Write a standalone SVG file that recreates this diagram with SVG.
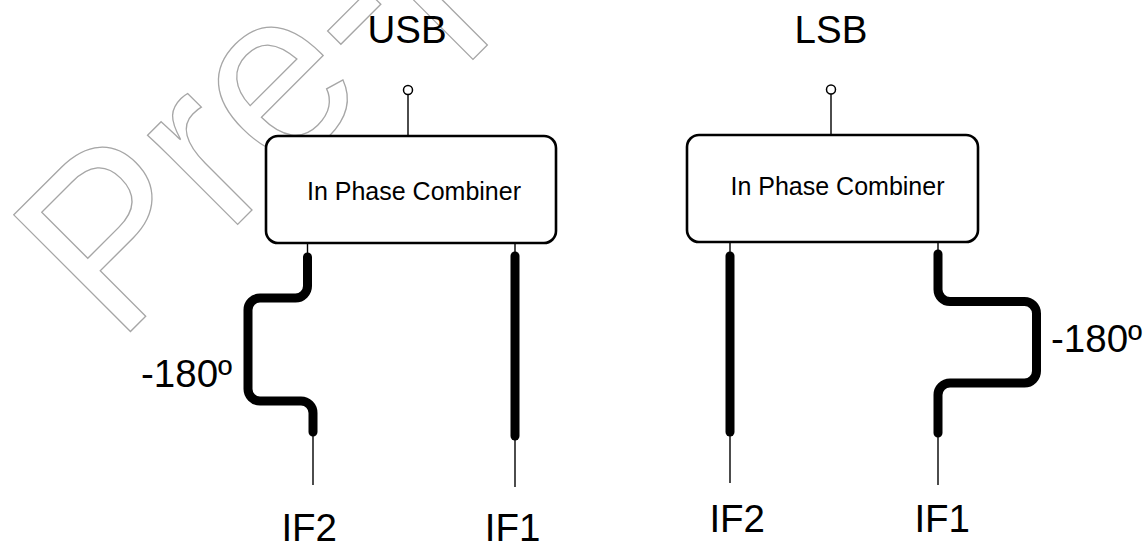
<svg xmlns="http://www.w3.org/2000/svg" width="1144" height="544" viewBox="0 0 1144 544">
<style>
.wm{font-family:"Liberation Sans",Arial,sans-serif;font-size:240px;fill:none;stroke:#a6a6a6;stroke-width:1.3px}
.box{fill:#fff;stroke:#000;stroke-width:2.6}
.lbl{font-family:"Liberation Sans",Arial,sans-serif;font-size:25px;fill:#000}
.big{font-family:"Liberation Sans",Arial,sans-serif;font-size:38.5px;fill:#000}
.thin{stroke:#000;stroke-width:1.4;fill:none}
.thick{stroke:#000;stroke-width:9;fill:none;stroke-linecap:round;stroke-linejoin:round}
.pin{fill:#fff;stroke:#000;stroke-width:1.5}
</style>
<rect width="1144" height="544" fill="#fff"/>
<g id="watermark">
<text class="wm" transform="translate(117,345) rotate(-45) scale(0.966,1)">Pre-p</text>
</g>
<g id="connectors">
<line class="thin" x1="408" y1="94.5" x2="408" y2="136"/>
<line class="thin" x1="307.5" y1="243" x2="307.5" y2="257"/>
<path class="thick" d="M307.5,257 V286 A12,12 0 0 1 295.5,298 H260 A12,12 0 0 0 248,310 V389 A12,12 0 0 0 260,401 H301 A12,12 0 0 1 313,413 V432"/>
<line class="thin" x1="313" y1="432" x2="313" y2="485"/>
<line class="thin" x1="515" y1="243" x2="515" y2="256"/>
<line class="thick" x1="515" y1="256" x2="515" y2="436"/>
<line class="thin" x1="515" y1="436" x2="515" y2="487"/>
<line class="thin" x1="831" y1="94" x2="831" y2="135"/>
<line class="thin" x1="730" y1="242" x2="730" y2="256"/>
<line class="thick" x1="730" y1="256" x2="730" y2="432"/>
<line class="thin" x1="730" y1="432" x2="730" y2="483"/>
<line class="thin" x1="938" y1="242" x2="938" y2="254"/>
<path class="thick" d="M938,254 V289.5 A12,12 0 0 0 950,301.5 H1024.5 A12,12 0 0 1 1036.5,313.5 V371 A12,12 0 0 1 1024.5,383 H950 A12,12 0 0 0 938,395 V433"/>
<line class="thin" x1="938" y1="433" x2="938" y2="485"/>
</g>
<g id="usb-combiner">
<rect class="box" x="266" y="136" width="290" height="107" rx="12"/>
<text class="lbl" x="414" y="200" text-anchor="middle">In Phase Combiner</text>
<circle class="pin" cx="408" cy="90" r="4.5"/>
<text class="big" x="407" y="42.7" text-anchor="middle">USB</text>
</g>
<g id="lsb-combiner">
<rect class="box" x="687" y="135" width="291" height="107" rx="12"/>
<text class="lbl" x="837.5" y="195" text-anchor="middle">In Phase Combiner</text>
<circle class="pin" cx="831" cy="89.5" r="4.5"/>
<text class="big" x="831" y="43.3" text-anchor="middle">LSB</text>
</g>
<g id="labels">
<text class="big" x="141" y="386.7">-180º</text>
<text class="big" x="1051" y="351.7">-180º</text>
<text class="big" x="281.4" y="541">IF2</text>
<text class="big" x="484.7" y="541">IF1</text>
<text class="big" x="709.4" y="531.7">IF2</text>
<text class="big" x="914.4" y="531.7">IF1</text>
</g>
</svg>
